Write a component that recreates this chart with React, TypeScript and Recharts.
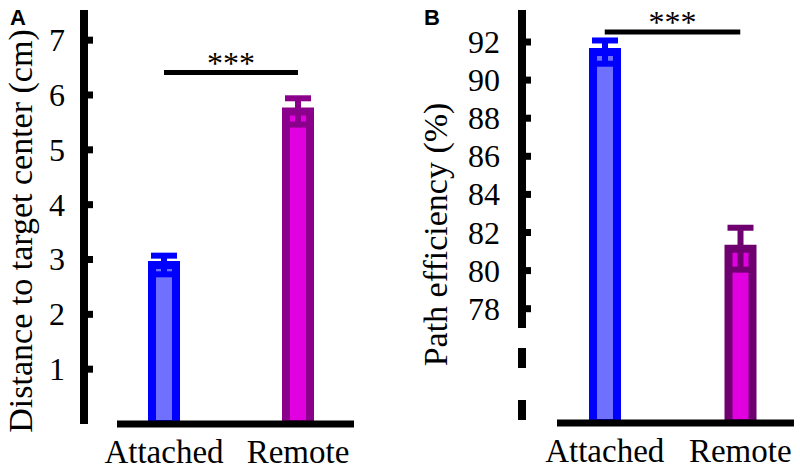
import React from 'react';
import { BarChart, Bar, Cell, XAxis, YAxis, ErrorBar, ReferenceLine, Label } from 'recharts';

const categories = ['Attached', 'Remote'];

// A: distance to target center (cm)
const distanceMean = [2.9, 5.7];
const distanceErr = [0.17, 0.24];
const distanceTicks = [1, 2, 3, 4, 5, 6, 7];
const distanceSig = 6.41;

// B: path efficiency (%)
const efficiencyMean = [91.47, 81.15];
const efficiencyErr = [0.61, 1.1];
const efficiencyTicks = [78, 80, 82, 84, 86, 88, 90, 92];
const efficiencySig = 92.52;

const SERIF = "'Liberation Serif', 'Tinos', 'Times New Roman', 'DejaVu Serif', serif";
const BLUE = '#0000ff';
const BLUE_FILL = '#7070ff';
const MAGENTA_FILL = '#e000e0';

const toRows = (mean: number[], err: number[]) =>
  categories.map((name, i) => ({
    name,
    value: mean[i],
    errAttached: name === 'Attached' ? err[i] : null,
    errRemote: name === 'Remote' ? err[i] : null,
  }));

const distanceRows = toRows(distanceMean, distanceErr);
const efficiencyRows = toRows(efficiencyMean, efficiencyErr);

const YTick = (props: any) => {
  const { x, y, payload, gap } = props;
  return (
    <g>
      <rect x={x + gap} y={y - 3.5} width={9} height={7} fill="#000" />
      <text x={x} y={y} textAnchor="end" dominantBaseline="central" style={{ fontFamily: SERIF, fontSize: 32 }} fill="#000">
        {payload.value}
      </text>
    </g>
  );
};

const YTitle = (props: any) => {
  const { viewBox, text, cx, shift } = props;
  const cy = viewBox.y + viewBox.height / 2 + shift;
  return (
    <text
      x={cx}
      y={cy}
      transform={`rotate(-90, ${cx}, ${cy})`}
      textAnchor="middle"
      dominantBaseline="central"
      style={{ fontFamily: SERIF, fontSize: 34 }}
      fill="#000"
    >
      {text}
    </text>
  );
};

const Panel = ({ rows, remoteEdge, domain, ticks, sig, title, titleX, titleShift, yWidth, tickGap, width, rightMargin, padLeft, xHeight, xDash, yDash }: any) => (
  <BarChart width={width} height={471} data={rows} margin={{ top: 10, right: rightMargin, bottom: 0, left: 0 }} style={{ fontFamily: SERIF }}>
    <Bar dataKey="value" barSize={24} strokeWidth={8} isAnimationActive={false}>
      {rows.map((r: any) => (
        <Cell
          key={r.name}
          fill={r.name === 'Attached' ? BLUE_FILL : MAGENTA_FILL}
          stroke={r.name === 'Attached' ? BLUE : remoteEdge}
        />
      ))}
      <ErrorBar dataKey="errAttached" width={13} strokeWidth={6} stroke={BLUE} isAnimationActive={false} />
      <ErrorBar dataKey="errRemote" width={13} strokeWidth={6} stroke={remoteEdge} isAnimationActive={false} />
    </Bar>
    <ReferenceLine
      segment={[{ x: 'Attached', y: sig }, { x: 'Remote', y: sig }]}
      stroke="#000"
      strokeWidth={5}
      ifOverflow="visible"
      label={{ value: '***', position: 'top', offset: -1, fill: '#000', fontSize: 32, style: { fontFamily: SERIF } }}
    />
    <XAxis
      dataKey="name"
      height={xHeight}
      padding={{ left: padLeft, right: 0 }}
      interval={0}
      tickLine={false}
      tickSize={0}
      tickMargin={16}
      axisLine={{ stroke: '#000', strokeWidth: 7, strokeDasharray: xDash }}
      tick={{ fill: '#000', fontSize: 33, style: { fontFamily: SERIF } }}
    />
    <YAxis
      type="number"
      domain={domain}
      ticks={ticks}
      allowDataOverflow
      interval={0}
      width={yWidth}
      tickLine={false}
      tickSize={0}
      tickMargin={tickGap}
      axisLine={{ stroke: '#000', strokeWidth: 8, strokeDasharray: yDash }}
      tick={<YTick gap={tickGap} />}
    >
      <Label content={<YTitle text={title} cx={titleX} shift={titleShift} />} />
    </YAxis>
  </BarChart>
);

const letter: React.CSSProperties = {
  position: 'absolute',
  top: 7,
  fontFamily: "'Liberation Sans', Arial, sans-serif",
  fontWeight: 'bold',
  fontSize: 22,
  lineHeight: 1,
};

export default function App() {
  return (
    <div style={{ position: 'absolute', left: 0, top: 0, width: 800, height: 471, overflow: 'hidden', background: '#fff', fontFamily: SERIF }}>
      <div style={{ position: 'absolute', left: 0, top: 0 }}>
        <Panel
          rows={distanceRows}
          remoteEdge="#8b008b"
          domain={[0, 7.55]}
          ticks={distanceTicks}
          sig={distanceSig}
          title="Distance to target center (cm)"
          titleX={20}
          titleShift={14}
          yWidth={84}
          tickGap={19}
          width={400}
          rightMargin={35}
          padLeft={13}
          xHeight={47}
          xDash="0 33 237 1000"
        />
      </div>
      <div style={{ position: 'absolute', left: 400, top: 0 }}>
        <Panel
          rows={efficiencyRows}
          remoteEdge="#6f006f"
          domain={[72, 93.68]}
          ticks={efficiencyTicks}
          sig={efficiencySig}
          title="Path efficiency (%)"
          titleX={35}
          titleShift={18}
          yWidth={122}
          tickGap={22}
          width={410}
          rightMargin={2}
          padLeft={15}
          xHeight={48}
          xDash="0 35 237 1000"
          yDash="318 20 20 32 20 100"
        />
      </div>
      <div style={{ ...letter, left: 10 }}>A</div>
      <div style={{ ...letter, left: 424 }}>B</div>
    </div>
  );
}
